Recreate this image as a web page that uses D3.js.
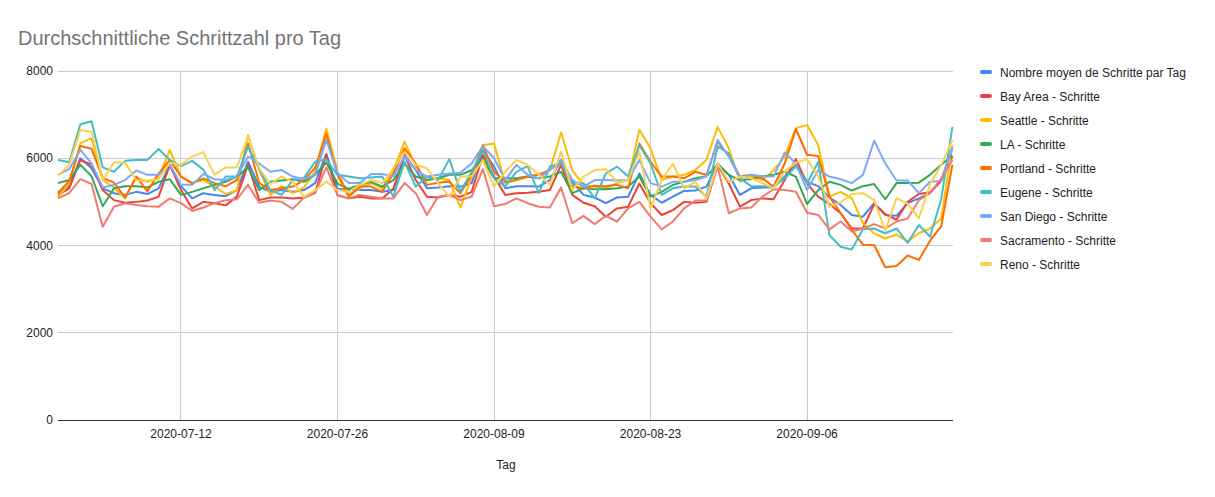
<!DOCTYPE html>
<html><head><meta charset="utf-8">
<script src="https://cdn.jsdelivr.net/npm/d3@7"></script>
<style>
body{margin:0;background:#fff;}
text{font-family: Arial, "Liberation Sans", sans-serif;}
</style>
</head><body>
<svg id="chart" width="1215" height="497"></svg>
<script>
const title = "Durchschnittliche Schrittzahl pro Tag";
const xAxisTitle = "Tag";
const firstDay = "2020-07-01";
const lastDay = "2020-09-19";
const xTickLabels = ["2020-07-12","2020-07-26","2020-08-09","2020-08-23","2020-09-06"];
const yTicks = [0, 2000, 4000, 6000, 8000];

const seriesNames = [
  "Nombre moyen de Schritte par Tag",
  "Bay Area - Schritte",
  "Seattle - Schritte",
  "LA - Schritte",
  "Portland - Schritte",
  "Eugene - Schritte",
  "San Diego - Schritte",
  "Sacramento - Schritte",
  "Reno - Schritte"
];
const seriesColors = ["#4285F4","#EA4335","#FBBC04","#34A853","#FF6D01","#46BDC6","#7BAAF7","#F07B72","#FCD04F"];

const average = [5230,5350,6000,5770,5310,5200,5160,5230,5180,5310,5850,5360,5080,5200,5160,5130,5270,5920,5350,5230,5270,5230,5270,5430,6100,5300,5270,5270,5270,5230,5270,6070,5730,5310,5330,5360,5350,5430,6190,5810,5310,5360,5360,5350,5500,5960,5460,5160,5100,4970,5100,5120,5650,5160,4980,5120,5250,5260,5350,5880,5620,5160,5310,5330,5330,5580,5850,5460,5360,5100,4930,4700,4660,4970,4700,4680,4970,5080,5200,5500,6230];
const bayArea = [5160,5310,5960,5850,5270,5040,4980,5000,5030,5120,5850,5270,4850,5000,4970,4920,5120,5850,5040,5100,5100,5080,5100,5210,6080,5150,5080,5120,5080,5080,5300,6070,5500,5120,5100,5160,5120,5230,6070,5580,5160,5200,5210,5230,5270,5850,5160,4980,4900,4660,4850,4890,5420,4970,4700,4810,5000,4980,5000,5850,5420,4890,5040,5080,5060,5500,5980,5420,5120,4950,4740,4390,4390,4950,4720,4590,5000,5180,5220,5480,6040];
const seattle = [5100,5430,6340,6460,5500,5330,5080,5560,5460,5540,6190,5580,5430,5500,5350,5180,5260,6530,5730,5160,5360,5200,5330,5700,6680,5700,5160,5310,5430,5310,5730,6380,5810,5500,5540,5500,4870,5580,6300,6340,5430,5500,5580,5620,5730,6590,5730,5390,5350,5310,5430,5500,6650,6230,5500,5580,5620,5730,5960,6720,6230,5460,5580,5500,5720,6040,6690,6760,6300,5120,5230,5080,4510,4280,4160,4250,4090,4280,4390,4620,6300];
const la = [5430,5500,5850,5590,4900,5310,5360,5360,5330,5460,5520,5160,5230,5310,5390,5460,5580,5790,5270,5460,5490,5520,5460,5620,5900,5420,5300,5390,5460,5350,5500,5880,5580,5500,5540,5620,5620,5730,5980,5540,5540,5540,5580,5540,5580,5690,5200,5310,5290,5290,5310,5350,5580,5120,5230,5390,5460,5540,5590,5850,5620,5500,5520,5580,5620,5690,5580,4950,5270,5460,5390,5260,5360,5410,5060,5430,5430,5440,5620,5850,6070];
const portland = [5200,5480,6280,6220,5550,5440,5100,5580,5240,5650,5960,5580,5430,5540,5430,5360,5500,6340,5430,5270,5310,5350,5500,5780,6560,5620,5120,5350,5350,5230,5650,6230,5880,5390,5440,5460,5200,5620,6300,5690,5460,5500,5580,5620,5730,5920,5360,5310,5370,5360,5390,5310,6340,5920,5580,5580,5540,5690,5620,6380,6040,5580,5620,5540,5350,5880,6670,6080,6050,5120,4750,4360,4020,4010,3500,3530,3770,3670,4110,4440,5850];
const eugene = [5960,5910,6780,6850,5790,5690,5940,5960,5960,6210,5960,5820,5940,5740,5270,5580,5580,6270,5750,5270,5160,5500,5550,5920,5970,5620,5580,5540,5560,5580,5120,5920,5350,5580,5500,5980,5230,5690,6190,5540,5350,5690,5820,5200,5810,5880,5390,5430,5080,5650,5810,5580,6300,5880,5160,5310,5350,5350,5120,6270,6110,5540,5360,5360,5350,5540,5820,5420,5920,4240,3970,3910,4370,4390,4280,4390,4060,4470,4200,5060,6720];
const sanDiego = [5620,5750,6190,5880,5330,5390,5500,5720,5620,5620,5850,5390,5390,5640,5520,5500,5580,6040,5880,5690,5730,5580,5520,5620,6420,5650,5430,5430,5640,5640,5580,6040,5730,5580,5620,5650,5670,5880,6280,6000,5500,5850,5620,5540,5730,5960,5500,5350,5500,5500,5490,5500,5960,5430,5350,5460,5460,5500,5580,6420,6040,5540,5620,5590,5580,6130,5880,5270,5730,5580,5520,5430,5620,6400,5880,5490,5490,5200,5460,5480,6250];
const sacramento = [5080,5200,5520,5410,4430,4890,4970,4930,4900,4890,5080,4970,4790,4870,4970,5040,5060,5390,4980,5030,5000,4840,5100,5200,5790,5160,5080,5160,5120,5080,5080,5430,5200,4700,5120,5160,5040,5120,5750,4900,4950,5080,4970,4890,4870,5330,4510,4680,4490,4680,4550,4850,5000,4660,4370,4550,4850,5030,5030,5810,4740,4850,4870,5120,5290,5270,5230,4750,4700,4370,4550,4320,4390,4490,4390,4550,4620,5040,5200,5540,5960];
const reno = [5600,5850,6650,6610,5500,5900,5900,5490,5490,5520,5900,5850,6040,6140,5620,5790,5790,6490,5770,5410,5580,5460,5120,5270,5460,5270,5230,5390,5500,5430,5770,6150,5850,5770,5430,5120,5580,5580,5960,5350,5690,5960,5850,5620,5390,6150,5270,5580,5730,5750,5450,5500,6150,4850,5500,5880,5310,5460,5080,5880,5460,5580,5540,5430,5310,5690,5900,5980,5580,4890,4990,5180,5200,5040,4340,5080,4960,4620,5400,5850,6420];

const seriesValues = [average, bayArea, seattle, la, portland, eugene, sanDiego, sacramento, reno];

const parse = d3.utcParse("%Y-%m-%d");
const days = d3.utcDay.range(parse(firstDay), d3.utcDay.offset(parse(lastDay), 1));

const svg = d3.select("#chart");
const x = d3.scaleUtc().domain([parse(firstDay), parse(lastDay)]).range([58, 952.4]);
const y = d3.scaleLinear().domain([0, 8000]).range([420, 71]);

// title
svg.append("text").attr("x", 18).attr("y", 45).attr("font-size", 20).attr("fill", "#757575").text(title);

// horizontal gridlines
svg.append("g").selectAll("line").data(yTicks.filter(d => d !== 0)).join("line")
  .attr("x1", 58).attr("x2", 953).attr("y1", d => y(d)).attr("y2", d => y(d))
  .attr("stroke", "#cccccc").attr("stroke-width", 1).attr("shape-rendering", "crispEdges");

// vertical gridlines
svg.append("g").selectAll("line").data(xTickLabels).join("line")
  .attr("x1", d => x(parse(d))).attr("x2", d => x(parse(d))).attr("y1", 71).attr("y2", 420)
  .attr("stroke", "#cccccc").attr("stroke-width", 1).attr("shape-rendering", "crispEdges");

// y tick labels
svg.append("g").selectAll("text").data(yTicks).join("text")
  .attr("x", 53).attr("y", d => y(d) + 4).attr("text-anchor", "end")
  .attr("font-size", 12).attr("fill", "#222").text(d => d);

// x tick labels
svg.append("g").selectAll("text").data(xTickLabels).join("text")
  .attr("x", d => x(parse(d))).attr("y", 438).attr("text-anchor", "middle")
  .attr("font-size", 12).attr("fill", "#222").text(d => d);

// x axis title
svg.append("text").attr("x", 506).attr("y", 469).attr("text-anchor", "middle")
  .attr("font-size", 12).attr("fill", "#222").text(xAxisTitle);

// lines
const line = d3.line().x((d, i) => x(days[i])).y(d => y(d));
svg.append("g").selectAll("path").data(seriesValues).join("path")
  .attr("d", d => line(d)).attr("fill", "none")
  .attr("stroke", (d, i) => seriesColors[i]).attr("stroke-width", 2)
  .attr("stroke-linejoin", "round");

// baseline
svg.append("line").attr("x1", 58).attr("x2", 953).attr("y1", y(0)).attr("y2", y(0))
  .attr("stroke", "#333").attr("stroke-width", 1).attr("shape-rendering", "crispEdges");

// legend
const lg = svg.append("g").selectAll("g").data(seriesNames).join("g")
  .attr("transform", (d, i) => `translate(980,${72 + i * 24})`);
lg.append("rect").attr("x", 0).attr("y", -2).attr("width", 12).attr("height", 4).attr("rx", 2)
  .attr("fill", (d, i) => seriesColors[i]);
lg.append("text").attr("x", 20).attr("y", 4.5).attr("font-size", 12).attr("fill", "#222").text(d => d);
</script>
</body></html>
